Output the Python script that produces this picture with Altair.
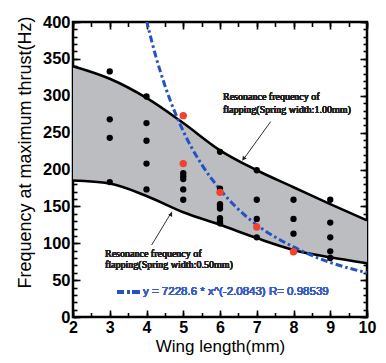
import altair as alt
import pandas as pd

# Band (resonance frequency curves)
band_x = [2, 3, 4, 5, 6, 7, 8, 9, 10]
upper_hz = [340, 323, 297, 263, 226, 199, 176, 153, 131]
lower_hz = [185, 181, 164, 142, 125, 107, 91, 81, 73]

# Power-law fit curve
fit_x = [4.0, 4.25, 4.5, 5.0, 5.5, 6.0, 6.5, 7.0, 8.0, 9.0, 10.0]
fit_y = [402, 354, 314, 252, 207, 173, 146, 125, 95, 74, 60]

# Measured points
black_x = [3, 3, 3, 3,
           4, 4, 4, 4, 4,
           5, 5, 5, 5, 5,
           6, 6, 6, 6, 6, 6, 6, 6,
           7, 7, 7, 7,
           8, 8, 8,
           9, 9, 9, 9, 9]
black_y = [333, 268, 243, 183,
           299, 263, 239, 208, 173,
           195, 191, 187, 173, 159,
           224, 174, 153, 150, 147, 134, 130, 127,
           199, 159, 133, 108,
           159, 133, 113,
           159, 128, 108, 89, 80]
red_x = [5, 5, 6, 7, 8]
red_y = [273, 208, 169, 122, 88.5]

# Annotation arrows (data coords): start -> end
arrow_id = ["a", "a", "b", "b"]
arrow_x = [7.38, 6.62, 4.14, 4.69]
arrow_y = [265, 212.6, 97.6, 142.8]
head_x = [6.64, 4.67]
head_y = [214.5, 139.5]
head_angle = [216, 31]

# Tick values
x_major = [2, 3, 4, 5, 6, 7, 8, 9, 10]
x_minor = [2, 2.5, 3, 3.5, 4, 4.5, 5, 5.5, 6, 6.5, 7, 7.5, 8, 8.5, 9, 9.5, 10]
y_major = [0, 50, 100, 150, 200, 250, 300, 350, 400]
y_minor = list(range(0, 401, 10))

W, H = 294, 295
BLUE = "#2452c0"

band_df = pd.DataFrame({"x": band_x, "upper": upper_hz, "lower": lower_hz})
fit_df = pd.DataFrame({"x": fit_x, "y": fit_y})
black_df = pd.DataFrame({"x": black_x, "y": black_y})
red_df = pd.DataFrame({"x": red_x, "y": red_y})
arrow_df = pd.DataFrame({"id": arrow_id, "x": arrow_x, "y": arrow_y})
head_df = pd.DataFrame({"x": head_x, "y": head_y, "ang": head_angle})

xs = alt.Scale(domain=[2, 10], nice=False, zero=False)
ys = alt.Scale(domain=[0, 400], nice=False)


def tick_axis(orient, offset, values, size):
    return alt.Axis(orient=orient, offset=offset, values=values, tickSize=size,
                    ticks=True, labels=False, domain=False, grid=False, title=None,
                    tickColor="black", tickWidth=1.6)


label_x_axis = alt.Axis(orient="bottom", values=x_major, format="d", ticks=False, tickSize=0,
                        domain=False, grid=False, labelFont="Liberation Sans",
                        labelFontWeight="bold", labelFontSize=16, labelColor="black",
                        labelPadding=2, labelBaseline="top", labelFlush=False, labelOverlap=False,
                        title="Wing length(mm)", titleFont="Liberation Sans", titleFontSize=17,
                        titleFontWeight="normal", titleColor="black", titleY=34,
                        titleBaseline="alphabetic")
label_y_axis = alt.Axis(orient="left", values=y_major, format="d", ticks=False, tickSize=0,
                        domain=False, grid=False, labelFont="Liberation Sans",
                        labelFontWeight="bold", labelFontSize=16.5, labelColor="black",
                        labelPadding=3, labelOverlap=False,
                        title="Frequency at maximum thrust(Hz)", titleFont="Liberation Sans",
                        titleFontSize=18, titleFontWeight="normal", titleColor="black",
                        titleX=-48, titleY=130, titleBaseline="middle", titleAngle=270,
                        titleAlign="center")

band = alt.Chart(band_df).mark_area(color="#bcbdc0", interpolate="monotone").encode(
    x=alt.X("x:Q", scale=xs, axis=label_x_axis),
    y=alt.Y("upper:Q", scale=ys, axis=label_y_axis),
    y2="lower:Q",
)

upper_line = alt.Chart(band_df).mark_line(color="black", strokeWidth=2.6, interpolate="monotone").encode(
    x=alt.X("x:Q", scale=xs, axis=tick_axis("top", -H, x_major, 7)),
    y=alt.Y("upper:Q", scale=ys, axis=tick_axis("right", -W, y_major, 7)),
)

lower_line = alt.Chart(band_df).mark_line(color="black", strokeWidth=2.6, interpolate="monotone").encode(
    x=alt.X("x:Q", scale=xs, axis=tick_axis("bottom", -H, x_major, 7)),
    y=alt.Y("lower:Q", scale=ys, axis=tick_axis("left", -W, y_major, 7)),
)

black_pts = alt.Chart(black_df).mark_circle(color="black", size=40, opacity=1).encode(
    x=alt.X("x:Q", scale=xs, axis=tick_axis("top", -H, x_minor, 4.5)),
    y=alt.Y("y:Q", scale=ys, axis=tick_axis("right", -W, y_minor, 4)),
)

fit_line = alt.Chart(fit_df).mark_line(color=BLUE, strokeWidth=3, strokeDash=[7, 3, 2.5, 3],
                                       interpolate="monotone", clip=True).encode(
    x=alt.X("x:Q", scale=xs, axis=tick_axis("bottom", -H, x_minor, 4.5)),
    y=alt.Y("y:Q", scale=ys, axis=tick_axis("left", -W, y_minor, 4)),
)

red_pts = alt.Chart(red_df).mark_circle(color="#f2412f", size=55, opacity=1).encode(
    x=alt.X("x:Q", scale=xs, axis=None),
    y=alt.Y("y:Q", scale=ys, axis=None),
)

arrows = alt.Chart(arrow_df).mark_line(color="#333333", strokeWidth=1).encode(
    x=alt.X("x:Q", scale=xs, axis=None),
    y=alt.Y("y:Q", scale=ys, axis=None),
    detail="id:N",
)

heads = alt.Chart(head_df).mark_point(shape="triangle-up", filled=True, size=22,
                                      color="#222222", opacity=1).encode(
    x=alt.X("x:Q", scale=xs, axis=None),
    y=alt.Y("y:Q", scale=ys, axis=None),
    angle=alt.Angle("ang:Q", scale=None),
)

serif = dict(font="Liberation Serif", fontSize=10, color="#222222", align="left", baseline="middle")
t1 = alt.Chart(band_df).mark_text(**serif).encode(
    text=alt.value("Resonance frequency of"), x=alt.value(150), y=alt.value(75))
t2 = alt.Chart(band_df).mark_text(**serif).encode(
    text=alt.value("flapping(Spring width:1.00mm)"), x=alt.value(150), y=alt.value(87.5))
t3 = alt.Chart(band_df).mark_text(**serif).encode(
    text=alt.value("Resonance frequency of"), x=alt.value(32), y=alt.value(232))
t4 = alt.Chart(band_df).mark_text(**serif).encode(
    text=alt.value("flapping(Spring width:0.50mm)"), x=alt.value(32), y=alt.value(242.5))

leg_line = alt.Chart(band_df).mark_rule(color=BLUE, strokeWidth=3, strokeDash=[7, 3, 2.5, 3]).encode(
    x=alt.value(44), x2=alt.value(67), y=alt.value(270))
leg_text = alt.Chart(band_df).mark_text(font="Liberation Sans", fontSize=11.5, color="#3a5cc4",
                                        align="left", baseline="middle").encode(
    text=alt.value("y = 7228.6 * x^(-2.0843)  R= 0.98539"), x=alt.value(70), y=alt.value(270))

chart = alt.layer(
    band, upper_line, lower_line, fit_line, black_pts, red_pts, arrows, heads,
    t1, t2, t3, t4, leg_line, leg_text,
).resolve_axis(x="independent", y="independent").properties(
    width=W, height=H,
    autosize=alt.AutoSizeParams(type="none"),
    padding={"left": 65, "top": 14, "right": 11, "bottom": 38},
    background="white",
).configure_view(stroke="black", strokeWidth=2.5)

chart.save("out.html", embed_options={"renderer": "svg", "actions": False})
